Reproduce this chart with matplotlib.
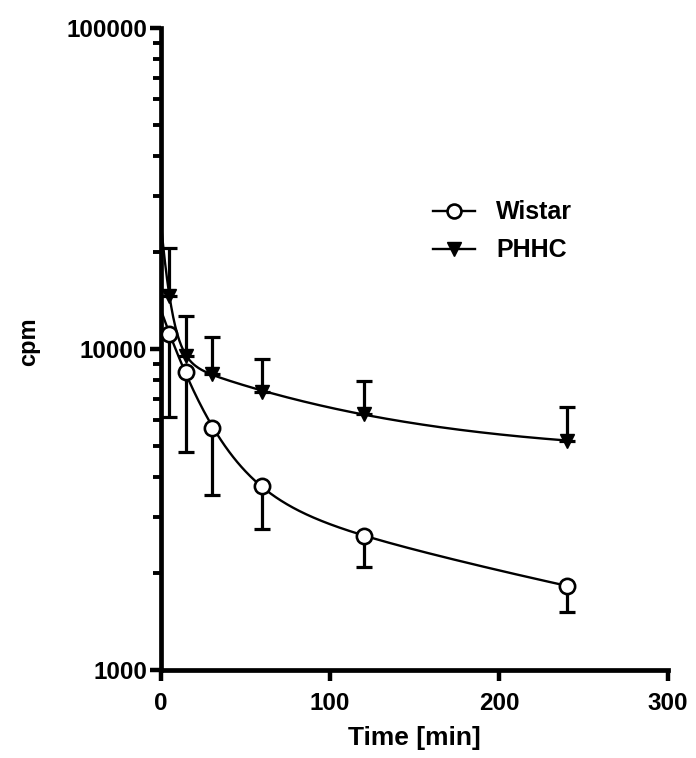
import numpy as np
import matplotlib
matplotlib.use("Agg")
import matplotlib.pyplot as plt
from matplotlib.ticker import FixedLocator, LogLocator, NullFormatter, FixedFormatter

#-----data-----#
time_min = [5, 15, 30, 60, 120, 240]

wistar = [11100, 8500, 5680, 3740, 2620, 1830]
wistar_low = [6150, 4790, 3510, 2740, 2090, 1520]   # end of the lower bar

phhc = [14650, 9530, 8360, 7360, 6280, 5180]
phhc_high = [20600, 12640, 10870, 9310, 7960, 6580]  # end of the upper bar

x_ticks = [0, 100, 200, 300]
y_ticks = [1000, 10000, 100000]
y_labels = ['1000', '10000', '100000']

plt.rcParams['font.family'] = ['Liberation Sans', 'DejaVu Sans']
plt.rcParams['font.weight'] = 'bold'


def two_phase_fit(t, y):
    # two phase decay with plateau: y = A exp(-k1 t) + B exp(-k2 t) + C
    # k1, k2 by grid search, A, B, C by least squares on relative error
    t = np.asarray(t, float)
    y = np.asarray(y, float)
    best = None
    for k1 in np.geomspace(0.02, 1.0, 80):
        for k2 in np.geomspace(5e-4, 0.05, 80):
            if k2 >= k1:
                continue
            M = np.column_stack([np.exp(-k1 * t), np.exp(-k2 * t), np.ones_like(t)]) / y[:, None]
            coef, *_ = np.linalg.lstsq(M, np.ones_like(y), rcond=None)
            if coef.min() < 0:
                continue
            err = np.sum((M @ coef - 1) ** 2)
            if best is None or err < best[0]:
                best = (err, k1, k2, coef)
    _, k1, k2, (a, b, c) = best
    return lambda tt: a * np.exp(-k1 * tt) + b * np.exp(-k2 * tt) + c


fig = plt.figure(figsize=(6.96, 7.58), dpi=100)
ax = fig.add_axes([0.2313, 0.1161, 0.7285, 0.847])

tt = np.linspace(0, 240, 400)

# error bars, one direction each
w = np.array(wistar)
p = np.array(phhc)
ax.errorbar(time_min, wistar, yerr=[w - np.array(wistar_low), np.zeros_like(w)],
            fmt='none', ecolor='black', elinewidth=2.3, capsize=5.6, capthick=2.3, zorder=2)
ax.errorbar(time_min, phhc, yerr=[np.zeros_like(p), np.array(phhc_high) - p],
            fmt='none', ecolor='black', elinewidth=2.3, capsize=5.6, capthick=2.3, zorder=2)

# fitted curves
ax.plot(tt, two_phase_fit(time_min, wistar)(tt), color='black', lw=1.7, zorder=3)
ax.plot(tt, two_phase_fit(time_min, phhc)(tt), color='black', lw=1.7, zorder=3)

# markers
ax.plot(time_min, wistar, 'o', ms=11, mfc='white', mec='black', mew=1.9, zorder=4, clip_on=False)
ax.plot(time_min, phhc, 'v', ms=10, color='black', zorder=4, clip_on=False)

# legend with proxies
h1, = ax.plot([], [], '-o', color='black', lw=1.7, ms=10, mfc='white', mec='black', mew=1.9)
h2, = ax.plot([], [], '-v', color='black', lw=1.7, ms=9.5)
leg = ax.legend([h1, h2], ['Wistar', 'PHHC'], loc='upper left', bbox_to_anchor=(0.512, 0.751),
                frameon=False, fontsize=18, borderpad=0, handlelength=1.68,
                handletextpad=0.85, labelspacing=0.56)

ax.set_yscale('log')
ax.set_xlim(0, 300)
ax.set_ylim(1000, 100000)

ax.xaxis.set_major_locator(FixedLocator(x_ticks))
ax.yaxis.set_major_locator(FixedLocator(y_ticks))
ax.yaxis.set_major_formatter(FixedFormatter(y_labels))
ax.yaxis.set_minor_locator(LogLocator(base=10, subs=np.arange(2, 10)))
ax.yaxis.set_minor_formatter(NullFormatter())

for s in ['top', 'right']:
    ax.spines[s].set_visible(False)
for s in ['left', 'bottom']:
    ax.spines[s].set_linewidth(3.4)

ax.tick_params(axis='both', which='major', direction='out', length=8, width=3.2,
               labelsize=17.5)
ax.tick_params(axis='x', which='major', pad=8)
ax.tick_params(axis='y', which='major', pad=2)
ax.tick_params(axis='y', which='minor', direction='out', length=5.5, width=2.8)

ax.set_xlabel('Time [min]', fontsize=19, fontweight='bold', labelpad=8)
ax.set_ylabel('cpm', fontsize=17, fontweight='bold')
ax.yaxis.set_label_coords(-0.238, 0.512)

fig.savefig('out.png', dpi=100)
